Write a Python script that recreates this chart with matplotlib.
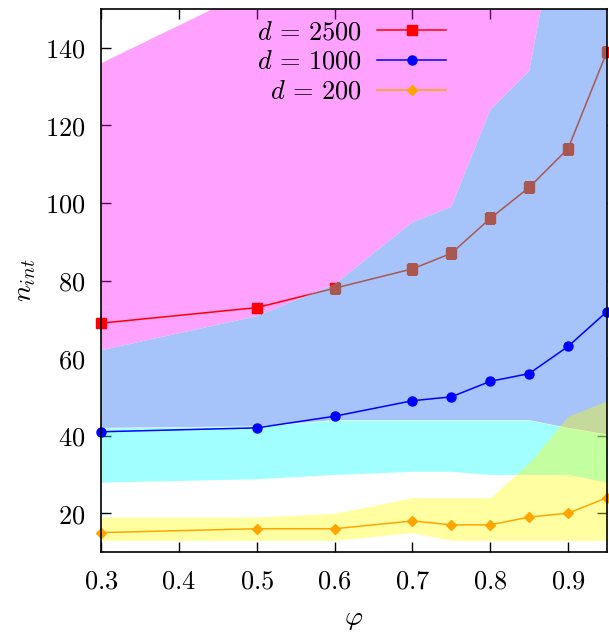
import matplotlib
matplotlib.use("Agg")
import matplotlib.pyplot as plt
from matplotlib.ticker import FuncFormatter

plt.rcParams['mathtext.fontset'] = 'cm'
plt.rcParams['font.size'] = 19

# phi values
phi = [0.3, 0.5, 0.6, 0.7, 0.75, 0.8, 0.85, 0.9, 0.95]

# curves
n_2500 = [69, 73, 78, 83, 87, 96, 104, 114, 139]
n_1000 = [41, 42, 45, 49, 50, 54, 56, 63, 72]
n_200 = [15, 16, 16, 18, 17, 17, 19, 20, 24]

# shaded ranges
pink_top = [136, 155.5, 162, 170, 175, 180, 185, 190, 200]
blue_top = [62, 70.8, 79, 95, 99, 124, 134, 187, 230]
blue_bot = [42, 42.4, 44, 44, 44, 44, 44, 42, 40.3]
cyan_bot = [28, 28.9, 30, 30.8, 30.8, 30, 30, 30, 28]
yell_top = [19, 19, 20, 24, 24, 24, 33, 45, 49]
yell_bot = [13, 13, 13, 15, 13, 13, 13, 13, 13]

fig = plt.figure(figsize=(6.09, 6.33), dpi=100)
ax = fig.add_axes([101/609, 1-552/633, (607-101)/609, (552-9)/633])

ax.fill_between(phi, blue_top, pink_top, color=(1, 0, 1), alpha=0.37, lw=0, zorder=1.0)
ax.plot(phi, n_2500, color='red', marker='s', ms=6.5, lw=1.1, clip_on=False,
        zorder=1.1, label=r'$d\,=\,2500$')
blue = ax.fill_between(phi, blue_bot, blue_top, color=(166/255, 196/255, 250/255),
                       lw=0, zorder=1.2)
# red curve seen through the blue band
under, = ax.plot(phi, n_2500, color='#aa5752', marker='s', ms=6.5, lw=1.1, zorder=1.22)
under.set_clip_path(blue.get_paths()[0], ax.transData)
ax.fill_between(phi, cyan_bot, blue_bot, color=(0, 1, 1), alpha=0.37, lw=0, zorder=1.25)
ax.fill_between(phi, yell_bot, yell_top, color=(1, 1, 0), alpha=0.37, lw=0, zorder=1.3)
ax.plot(phi, n_1000, color='blue', marker='o', ms=6.5, lw=1.1, clip_on=False,
        zorder=1.4, label=r'$d\,=\,1000$')
ax.plot(phi, n_200, color='orange', marker='D', ms=4.8, lw=1.1, clip_on=False,
        zorder=1.5, label=r'$d\,=\,200$')

ax.set_xlim(0.3, 0.95)
ax.set_ylim(10, 150)
ax.set_xticks([0.3, 0.4, 0.5, 0.6, 0.7, 0.8, 0.9])
ax.set_yticks([20, 40, 60, 80, 100, 120, 140])
fmt = FuncFormatter(lambda v, p: '$%g$' % round(v, 2))
ax.xaxis.set_major_formatter(fmt)
ax.yaxis.set_major_formatter(fmt)
ax.set_axisbelow(True)
ax.tick_params(direction='in', top=True, right=True, length=7.2, width=1.0,
               labelsize=19)
ax.tick_params(axis='x', pad=12)
ax.tick_params(axis='y', pad=11)
for s in ax.spines.values():
    s.set_linewidth(1.2)

ax.set_xlabel(r'$\varphi$', fontsize=20, labelpad=7)
ax.set_ylabel(r'$n_{int}$', fontsize=20, labelpad=5)

ax.legend(loc='upper right', bbox_to_anchor=(446/609, 1-19/633),
          bbox_transform=fig.transFigure, frameon=False, markerfirst=False,
          handlelength=2.6, handletextpad=0.6, labelspacing=0.15,
          borderpad=0, borderaxespad=0, fontsize=19)

fig.savefig('out.png', dpi=100)
